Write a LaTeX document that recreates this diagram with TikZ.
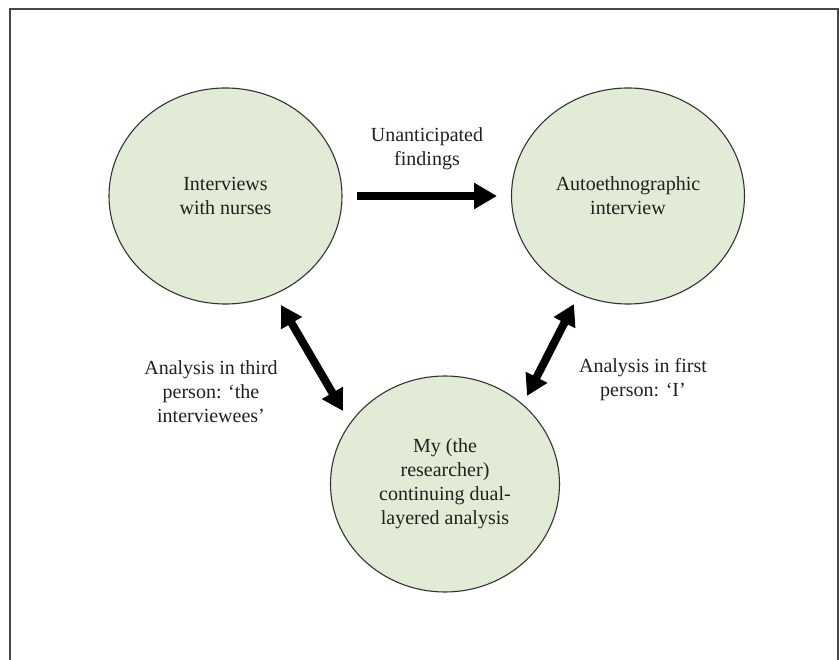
\documentclass[tikz,border=0pt]{standalone}
\usepackage{fontspec}
\setmainfont{Liberation Serif}
\usetikzlibrary{shapes.geometric,arrows.meta}
\definecolor{circfill}{RGB}{226,235,214}
\definecolor{txt}{RGB}{30,34,30}
\tikzset{
  bubble/.style={ellipse, draw=black!80, line width=1.1pt, fill=circfill,
    minimum width=233pt, minimum height=216pt, inner sep=0pt,
    align=center, text=txt, font=\fontsize{20}{24}\selectfont},
  lbl/.style={align=center, text=txt, font=\fontsize{20}{24}\selectfont, inner sep=0pt},
  fat/.style={line width=8pt, -{Triangle[length=23pt,width=25pt]}},
  fatdbl/.style={line width=8pt, {Triangle[length=21pt,width=23pt]}-{Triangle[length=21pt,width=23pt]}}
}
\begin{document}
\begin{tikzpicture}[x=1pt,y=-1pt]
\useasboundingbox (0,0) rectangle (839,660);
% frame (bottom edge cut off)
\draw[line width=1.5pt, black!72] (10,662) -- (10,9) -- (838,9) -- (838,662);

\node[bubble] (A) at (225.5,196) {Interviews\\with nurses};
\node[bubble] (B) at (628,196) {Autoethnographic\\interview};
\node[bubble, minimum width=229pt] (C) at (445,484) {My (the\\researcher)\\continuing dual-\\layered analysis};

\node[lbl] (u) at (427,149) {Unanticipated\\findings};
\node[lbl] (l) at (211,392) {Analysis in third\\person: `the\\interviewees'};
\node[lbl] (r) at (643,380) {Analysis in first\\person: `I'};

\coordinate (ab1) at (357,196);
\coordinate (ab2) at (497,196);
\coordinate (ac1) at (281,305);
\coordinate (ac2) at (343,411);
\coordinate (bc1) at (574,304);
\coordinate (bc2) at (527,396);

\draw[fat] (ab1) -- (ab2);
\draw[fatdbl] (ac1) -- (ac2);
\draw[fatdbl] (bc1) -- (bc2);
\end{tikzpicture}
\end{document}
